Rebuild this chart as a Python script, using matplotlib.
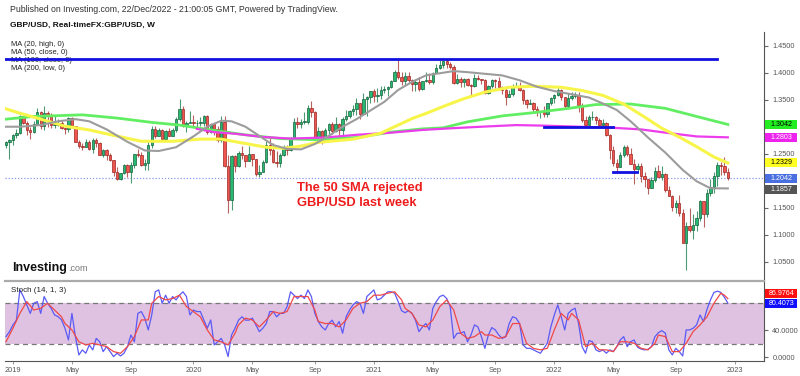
import numpy as np
import pandas as pd
import matplotlib
matplotlib.use('Agg')
import matplotlib.pyplot as plt
import matplotlib.dates as mdates
from matplotlib.patches import Rectangle

plt.rcParams['font.family'] = ['Liberation Sans', 'DejaVu Sans']

# weekly GBP/USD candles, first bar = week of 24 Dec 2018
opens = [1.2655, 1.2715, 1.2745, 1.2845, 1.2880, 1.3190, 1.3075, 1.2940, 1.2905, 1.3050,
         1.3265, 1.3010, 1.3255, 1.3205, 1.3035, 1.3040, 1.3070, 1.2985, 1.2950, 1.3170,
         1.3005, 1.2720, 1.2650, 1.2620, 1.2720, 1.2585, 1.2745, 1.2690, 1.2480, 1.2575,
         1.2470, 1.2375, 1.2165, 1.2025, 1.2145, 1.2290, 1.2160, 1.2290, 1.2500, 1.2475,
         1.2290, 1.2330, 1.2670, 1.2960, 1.2830, 1.2935, 1.2775, 1.2915, 1.2835, 1.2935,
         1.3150, 1.3325, 1.3015, 1.3075, 1.3080, 1.3060, 1.3070, 1.3075, 1.3200, 1.2910,
         1.3045, 1.2960, 1.2750, 1.3090, 1.2280, 1.1640, 1.2460, 1.2265, 1.2505, 1.2470,
         1.2370, 1.2490, 1.2400, 1.2115, 1.2170, 1.2340, 1.2670, 1.2565, 1.2350, 1.2335,
         1.2470, 1.2615, 1.2565, 1.2790, 1.3085, 1.3050, 1.3090, 1.3090, 1.3350, 1.3280,
         1.2795, 1.2920, 1.2750, 1.2945, 1.3045, 1.2915, 1.3045, 1.2945, 1.3150, 1.3190,
         1.3300, 1.3320, 1.3435, 1.3230, 1.3515, 1.3550, 1.3670, 1.3565, 1.3590, 1.3685,
         1.3705, 1.3735, 1.3855, 1.4015, 1.3925, 1.3845, 1.3935, 1.3870, 1.3790, 1.3830,
         1.3700, 1.3840, 1.3870, 1.3820, 1.4000, 1.4095, 1.4150, 1.4215, 1.4155, 1.4110,
         1.3805, 1.3880, 1.3830, 1.3875, 1.3765, 1.3745, 1.3900, 1.3875, 1.3870, 1.3620,
         1.3760, 1.3865, 1.3840, 1.3735, 1.3675, 1.3550, 1.3615, 1.3745, 1.3760, 1.3685,
         1.3500, 1.3420, 1.3440, 1.3335, 1.3265, 1.3270, 1.3235, 1.3435, 1.3530, 1.3590,
         1.3675, 1.3545, 1.3390, 1.3530, 1.3565, 1.3590, 1.3410, 1.3120, 1.3035, 1.3180,
         1.3185, 1.3120, 1.3040, 1.3065, 1.2840, 1.2575, 1.2335, 1.2260, 1.2485, 1.2625,
         1.2490, 1.2315, 1.2215, 1.2265, 1.2095, 1.2030, 1.1870, 1.2005, 1.2175, 1.2075,
         1.2130, 1.1830, 1.1720, 1.1510, 1.1585, 1.1410, 1.0855, 1.1165, 1.1090, 1.1175,
         1.1310, 1.1620, 1.1380, 1.1765, 1.1890, 1.2090, 1.2290, 1.2265, 1.2165]
highs = [1.2735, 1.2770, 1.2865, 1.2960, 1.3215, 1.3215, 1.3100, 1.2990, 1.3110, 1.3350,
         1.3285, 1.3380, 1.3300, 1.3255, 1.3195, 1.3150, 1.3120, 1.2990, 1.3175, 1.3175,
         1.3010, 1.2750, 1.2690, 1.2765, 1.2745, 1.2785, 1.2785, 1.2710, 1.2580, 1.2580,
         1.2520, 1.2375, 1.2250, 1.2150, 1.2310, 1.2310, 1.2345, 1.2500, 1.2580, 1.2525,
         1.2410, 1.2710, 1.3010, 1.3010, 1.2975, 1.2955, 1.2930, 1.2985, 1.2975, 1.3180,
         1.3515, 1.3380, 1.3100, 1.3285, 1.3215, 1.3120, 1.3175, 1.3210, 1.3215, 1.3070,
         1.3070, 1.3010, 1.3200, 1.3200, 1.2485, 1.2485, 1.2485, 1.2545, 1.2650, 1.2475,
         1.2645, 1.2500, 1.2410, 1.2300, 1.2390, 1.2730, 1.2810, 1.2690, 1.2545, 1.2510,
         1.2670, 1.2660, 1.2815, 1.3170, 1.3185, 1.3145, 1.3265, 1.3395, 1.3480, 1.3285,
         1.3000, 1.2930, 1.2985, 1.3060, 1.3085, 1.3175, 1.3065, 1.3175, 1.3310, 1.3310,
         1.3400, 1.3540, 1.3445, 1.3625, 1.3565, 1.3670, 1.3705, 1.3710, 1.3745, 1.3760,
         1.3760, 1.3865, 1.4050, 1.4240, 1.4015, 1.4005, 1.4015, 1.3880, 1.3885, 1.3920,
         1.3845, 1.4010, 1.3990, 1.4005, 1.4165, 1.4235, 1.4220, 1.4250, 1.4200, 1.4135,
         1.3985, 1.3920, 1.3895, 1.3910, 1.3795, 1.3985, 1.3960, 1.3890, 1.3890, 1.3780,
         1.3890, 1.3880, 1.3915, 1.3750, 1.3750, 1.3675, 1.3790, 1.3835, 1.3825, 1.3700,
         1.3510, 1.3510, 1.3455, 1.3375, 1.3275, 1.3375, 1.3440, 1.3545, 1.3600, 1.3750,
         1.3690, 1.3550, 1.3630, 1.3645, 1.3645, 1.3650, 1.3435, 1.3200, 1.3215, 1.3300,
         1.3190, 1.3165, 1.3145, 1.3090, 1.2860, 1.2640, 1.2400, 1.2525, 1.2665, 1.2665,
         1.2600, 1.2405, 1.2325, 1.2330, 1.2165, 1.2035, 1.2065, 1.2245, 1.2295, 1.2280,
         1.2145, 1.1900, 1.1740, 1.1650, 1.1740, 1.1475, 1.1235, 1.1495, 1.1380, 1.1440,
         1.1645, 1.1625, 1.1855, 1.2030, 1.2155, 1.2345, 1.2345, 1.2445, 1.2240]
lows = [1.2605, 1.2405, 1.2670, 1.2800, 1.2865, 1.3050, 1.2850, 1.2770, 1.2885, 1.3045,
        1.2960, 1.2945, 1.3000, 1.2980, 1.2980, 1.3020, 1.2960, 1.2865, 1.2905, 1.2970,
        1.2715, 1.2605, 1.2560, 1.2615, 1.2560, 1.2505, 1.2630, 1.2475, 1.2440, 1.2380,
        1.2365, 1.2080, 1.2015, 1.2015, 1.2115, 1.2070, 1.1960, 1.2230, 1.2430, 1.2270,
        1.2205, 1.2195, 1.2610, 1.2790, 1.2820, 1.2770, 1.2765, 1.2820, 1.2820, 1.2905,
        1.3105, 1.2990, 1.2905, 1.3065, 1.3010, 1.2955, 1.3010, 1.3010, 1.2870, 1.2875,
        1.2850, 1.2725, 1.2725, 1.2250, 1.1410, 1.1450, 1.2160, 1.2250, 1.2410, 1.2250,
        1.2370, 1.2265, 1.2080, 1.2075, 1.2165, 1.2330, 1.2475, 1.2335, 1.2255, 1.2255,
        1.2465, 1.2480, 1.2545, 1.2770, 1.2985, 1.2985, 1.3055, 1.3055, 1.3180, 1.2760,
        1.2765, 1.2675, 1.2745, 1.2865, 1.2865, 1.2905, 1.2855, 1.2855, 1.3105, 1.3165,
        1.3220, 1.3225, 1.3135, 1.3215, 1.3190, 1.3430, 1.3450, 1.3450, 1.3520, 1.3625,
        1.3565, 1.3715, 1.3850, 1.3890, 1.3780, 1.3775, 1.3835, 1.3670, 1.3670, 1.3670,
        1.3680, 1.3825, 1.3785, 1.3800, 1.3995, 1.4075, 1.4090, 1.4080, 1.4075, 1.3790,
        1.3790, 1.3730, 1.3730, 1.3760, 1.3570, 1.3740, 1.3860, 1.3800, 1.3600, 1.3600,
        1.3725, 1.3725, 1.3730, 1.3610, 1.3410, 1.3545, 1.3575, 1.3735, 1.3670, 1.3425,
        1.3355, 1.3415, 1.3280, 1.3195, 1.3160, 1.3175, 1.3180, 1.3400, 1.3430, 1.3560,
        1.3490, 1.3355, 1.3385, 1.3490, 1.3525, 1.3275, 1.3095, 1.3000, 1.3000, 1.3120,
        1.3050, 1.3030, 1.2975, 1.2830, 1.2410, 1.2275, 1.2155, 1.2245, 1.2445, 1.2460,
        1.2310, 1.1935, 1.2160, 1.1975, 1.1875, 1.1760, 1.1865, 1.1975, 1.2060, 1.2005,
        1.1800, 1.1715, 1.1445, 1.1405, 1.1350, 1.0840, 1.0350, 1.1055, 1.0925, 1.1065,
        1.1255, 1.1145, 1.1335, 1.1710, 1.1780, 1.1900, 1.2105, 1.2110, 1.2020]
closes = [1.2715, 1.2745, 1.2845, 1.2880, 1.3190, 1.3075, 1.2940, 1.2905, 1.3050, 1.3265,
          1.3010, 1.3255, 1.3205, 1.3035, 1.3040, 1.3070, 1.2985, 1.2950, 1.3170, 1.3005,
          1.2720, 1.2650, 1.2620, 1.2720, 1.2585, 1.2745, 1.2690, 1.2480, 1.2575, 1.2470,
          1.2375, 1.2165, 1.2025, 1.2145, 1.2290, 1.2160, 1.2290, 1.2500, 1.2475, 1.2290,
          1.2330, 1.2670, 1.2960, 1.2830, 1.2935, 1.2775, 1.2915, 1.2835, 1.2935, 1.3150,
          1.3325, 1.3015, 1.3075, 1.3080, 1.3060, 1.3070, 1.3075, 1.3200, 1.2910, 1.3045,
          1.2960, 1.2750, 1.3090, 1.2280, 1.1640, 1.2460, 1.2265, 1.2505, 1.2470, 1.2370,
          1.2490, 1.2400, 1.2115, 1.2170, 1.2340, 1.2670, 1.2565, 1.2350, 1.2335, 1.2470,
          1.2615, 1.2565, 1.2790, 1.3085, 1.3050, 1.3090, 1.3090, 1.3350, 1.3280, 1.2795,
          1.2920, 1.2750, 1.2945, 1.3045, 1.2915, 1.3045, 1.2945, 1.3150, 1.3190, 1.3300,
          1.3320, 1.3435, 1.3230, 1.3515, 1.3550, 1.3670, 1.3565, 1.3590, 1.3685, 1.3705,
          1.3735, 1.3855, 1.4015, 1.3925, 1.3845, 1.3935, 1.3870, 1.3790, 1.3830, 1.3700,
          1.3840, 1.3870, 1.3820, 1.4000, 1.4095, 1.4150, 1.4215, 1.4155, 1.4110, 1.3805,
          1.3880, 1.3830, 1.3875, 1.3765, 1.3745, 1.3900, 1.3875, 1.3870, 1.3620, 1.3760,
          1.3865, 1.3840, 1.3735, 1.3675, 1.3550, 1.3615, 1.3745, 1.3760, 1.3685, 1.3500,
          1.3420, 1.3440, 1.3335, 1.3265, 1.3270, 1.3235, 1.3435, 1.3530, 1.3590, 1.3675,
          1.3545, 1.3390, 1.3530, 1.3565, 1.3590, 1.3410, 1.3120, 1.3035, 1.3180, 1.3185,
          1.3120, 1.3040, 1.3065, 1.2840, 1.2575, 1.2335, 1.2260, 1.2485, 1.2625, 1.2490,
          1.2315, 1.2215, 1.2265, 1.2095, 1.2030, 1.1870, 1.2005, 1.2175, 1.2075, 1.2130,
          1.1830, 1.1720, 1.1510, 1.1585, 1.1410, 1.0855, 1.1165, 1.1090, 1.1175, 1.1310,
          1.1620, 1.1380, 1.1765, 1.1890, 1.2090, 1.2290, 1.2265, 1.2165, 1.2042]

# moving averages: bar index -> value
ma20_idx = [0, 4, 10, 15, 20, 24, 29, 35, 40, 44, 49, 54, 58, 62, 65, 69, 73, 77, 81, 85,
            89, 93, 97, 101, 105, 109, 113, 117, 121, 125, 129, 133, 138, 143, 148, 153, 158,
            163, 168, 172, 176, 180, 185, 190, 195, 199, 203, 208]
ma20_val = [1.300, 1.300, 1.303, 1.310, 1.314, 1.310, 1.295, 1.272, 1.256, 1.255, 1.262,
            1.282, 1.300, 1.311, 1.310, 1.300, 1.283, 1.266, 1.259, 1.258, 1.268, 1.283,
            1.300, 1.314, 1.330, 1.346, 1.368, 1.383, 1.395, 1.399, 1.403, 1.401, 1.398,
            1.395, 1.386, 1.374, 1.366, 1.360, 1.354, 1.343, 1.331, 1.310, 1.280, 1.252,
            1.220, 1.199, 1.186, 1.1857]
ma50_idx = [0, 4, 10, 17, 24, 31, 39, 48, 56, 62, 68, 75, 80, 85, 90, 100, 108, 112, 117,
            122, 127, 132, 138, 145, 152, 160, 166, 172, 178, 184, 189, 194, 199, 204, 208]
ma50_val = [1.333, 1.325, 1.314, 1.301, 1.294, 1.284, 1.273, 1.273, 1.277, 1.277, 1.270,
            1.262, 1.260, 1.264, 1.271, 1.277, 1.288, 1.300, 1.315, 1.327, 1.340, 1.352,
            1.364, 1.373, 1.375, 1.373, 1.367, 1.358, 1.342, 1.318, 1.297, 1.281, 1.263,
            1.244, 1.2329]
ma100_idx = [55, 60, 66, 74, 82, 92, 101, 111, 120, 128, 137, 147, 155, 165, 175, 183, 190,
             199, 208]
ma100_val = [1.296, 1.290, 1.287, 1.281, 1.278, 1.280, 1.285, 1.289, 1.294, 1.297, 1.300,
             1.303, 1.302, 1.300, 1.298, 1.295, 1.289, 1.282, 1.2803]
ma200_idx = [0, 8, 22, 32, 42, 50, 59, 69, 79, 89, 101, 111, 120, 126, 133, 143, 152, 161,
             170, 180, 190, 199, 208]
ma200_val = [1.314, 1.319, 1.322, 1.316, 1.308, 1.303, 1.294, 1.285, 1.278, 1.276, 1.280,
             1.290, 1.296, 1.298, 1.309, 1.320, 1.326, 1.333, 1.341, 1.342, 1.334, 1.319,
             1.3042]

# drawn support / resistance lines: (from bar, to bar, level)
levels = [(-0.3, 204.9, 1.4254), (155.0, 174.9, 1.2994), (174.9, 181.8, 1.2155)]

# Stoch (14, 1, 3)
stoch_k = [30.6, 38, 48, 55, 100, 90, 77.5, 65, 80, 82.5,
           65, 90, 80, 72.6, 62.7, 60.2, 55.3, 43, 25.7, 65,
           30.6, 3.5, 10.9, 6, 18.3, 10.9, 28, 23, 8.4, 15.8,
           8.4, 1, 6, 2, 6, 15.8, 33, 23, 65, 67.7,
           57.8, 40.5, 62.7, 97, 99.8, 80, 92, 80, 90, 85,
           92, 97, 90, 62.7, 70, 67.7, 67.7, 55.3, 43, 55.3,
           18.3, 23, 28, 18.3, 1, 33, 43, 55, 60, 55,
           55, 58, 48, 38, 43, 50, 67.7, 67.7, 60, 65,
           65, 75, 97, 92, 87, 92, 87, 99.8, 90, 65,
           53, 45, 40.5, 50, 55, 45, 53, 35.6, 60, 70,
           77.5, 82.5, 80, 65, 90, 95, 99.8, 85, 87, 92,
           97, 97, 95, 82.5, 69, 66, 69, 65, 55, 38,
           45, 50, 40.5, 72.6, 82.5, 90, 92, 87, 75, 28,
           35.6, 35.6, 38, 23, 33, 48, 45, 30.6, 13.3, 33,
           44, 40.5, 33, 28, 30.6, 50, 60, 58, 50, 18.3,
           13.3, 13.3, 11, 8.4, 6, 13.3, 20.7, 45, 62.7, 77.5,
           60, 40.5, 65, 70, 72.6, 50, 15.8, 6, 24.7, 23,
           11, 8.4, 11, 6, 11, 8.4, 15.8, 25.7, 30.6, 15.8,
           23, 25.7, 14.8, 12.3, 11, 11.8, 15.8, 30.6, 36.5, 39.5,
           35.6, 11, 3.5, 13.3, 8.4, 2, 40.5, 40.5, 43, 48,
           62.7, 53, 71, 85, 96, 98, 96, 89, 80.4073]
stoch_d_idx = [0, 2, 4, 6, 8, 10, 12, 14, 16, 17, 19, 21, 23, 25, 27, 29, 31, 33, 35, 37,
               39, 41, 42, 44, 46, 48, 50, 52, 54, 56, 58, 60, 62, 64, 66, 67, 69, 71, 73,
               75, 77, 79, 81, 83, 85, 87, 89, 90, 92, 94, 96, 98, 100, 102, 104, 106, 108,
               110, 112, 114, 115, 117, 119, 121, 123, 125, 127, 129, 131, 133, 135, 137,
               138, 140, 142, 144, 146, 148, 150, 152, 154, 156, 158, 160, 162, 163, 165,
               167, 169, 171, 173, 175, 177, 179, 181, 183, 185, 187, 188, 190, 192, 194,
               196, 198, 200, 202, 204, 206, 207, 208]
stoch_d_val = [23, 43, 65, 82.5, 70, 72.6, 80, 70, 60, 50, 40.5, 23, 18.3, 20.7, 18.3, 15.8,
               8.4, 6, 15.8, 30.6, 55.3, 55.3, 80, 90, 85, 87, 92, 75, 67.7, 60, 40.5, 25.7,
               23, 18.3, 35.6, 48, 58, 55.3, 45, 55.3, 67.7, 65, 67.7, 90, 90, 90, 70, 53,
               50, 50, 45, 55.3, 72.6, 80, 82.5, 92, 92, 95, 97, 85, 72.6, 65, 48, 45, 55.3,
               75, 85, 70, 35.6, 28, 30.6, 38, 33, 33, 28, 30.6, 50, 50, 20.7, 13.3, 11,
               13.3, 40.5, 65, 55.3, 65, 55.3, 15.8, 20.7, 11, 11, 8.4, 23, 23, 20.7, 13.3,
               11, 20.7, 33, 30.6, 8.4, 8.4, 20.7, 38, 48, 60, 80, 95, 92, 86.9764]

tick_dates = ['2019-01-07', '2019-05-06', '2019-09-02', '2020-01-06', '2020-05-04',
              '2020-09-07', '2021-01-04', '2021-05-03', '2021-09-06', '2022-01-03',
              '2022-05-02', '2022-09-05', '2023-01-02']
tick_labels = ['2019', 'May', 'Sep', '2020', 'May', 'Sep', '2021', 'May', 'Sep', '2022',
               'May', 'Sep', '2023']

# price scale ticks (the ones under the value boxes are not labelled)
price_ticks = [1.05, 1.10, 1.15, 1.20, 1.25, 1.30, 1.35, 1.40, 1.45]
price_tick_labels = ['1.0500', '1.1000', '1.1500', '', '1.2500', '', '1.3500', '1.4000',
                     '1.4500']

x0 = mdates.date2num(pd.Timestamp('2018-12-24'))


def bx(i):
    return x0 + 7 * np.asarray(i, dtype=float)


o = np.array(opens)
h = np.array(highs)
l = np.array(lows)
c = np.array(closes)
xs = bx(np.arange(len(c)))
up = c >= o

fig = plt.figure(figsize=(8, 3.76), dpi=100)
ax = fig.add_axes([5 / 800, 1 - 281 / 376, 759 / 800, 249 / 376])
ax2 = fig.add_axes([5 / 800, 1 - 361 / 376, 759 / 800, 80 / 376], sharex=ax)

# candles
ax.vlines(xs[up], l[up], h[up], color='#4d9a72', lw=0.8, zorder=2)
ax.vlines(xs[~up], l[~up], h[~up], color='#b9615f', lw=0.8, zorder=2)
body = np.maximum(np.abs(c - o), 0.0008)
ax.bar(xs[up], body[up], bottom=o[up], width=4.8, color='#27b872',
       edgecolor='#16603c', linewidth=0.5, zorder=3)
ax.bar(xs[~up], body[~up], bottom=c[~up], width=4.8, color='#f0564f',
       edgecolor='#9a2622', linewidth=0.5, zorder=3)

# moving averages
ax.plot(bx(ma200_idx), ma200_val, color='#62ee62', lw=2, zorder=4)
ax.plot(bx(ma100_idx), ma100_val, color='#ec3cec', lw=1.6, zorder=4)
ax.plot(bx(ma50_idx), ma50_val, color='#f7f54a', lw=2.2, zorder=4)
ax.plot(bx(ma20_idx), ma20_val, color='#9c9c9c', lw=1.5, zorder=4)

for a, b, lev in levels:
    ax.plot(bx([a, b]), [lev, lev], color='#1010e0', lw=2, zorder=5)

ax.axhline(closes[-1], color='#8a98ee', ls=(0, (1, 1.5)), lw=0.9, zorder=1)

ax.set_xlim(x0 - 2, x0 + 1529)
ax.set_ylim(1.01426, 1.4754)
ax.yaxis.tick_right()
ax.set_yticks(price_ticks)
ax.set_yticklabels(price_tick_labels)
ax.tick_params(axis='y', length=3, width=0.8, color='#666', pad=3, labelsize=5.3,
               labelcolor='#555')
ax.tick_params(axis='x', bottom=False, labelbottom=False)
for s in ['top', 'left', 'bottom']:
    ax.spines[s].set_visible(False)
ax.spines['right'].set_color('#555')

# value boxes on the price scale
price_boxes = [(1.3042, '1.3042', '#22ee22', 'black'),
               (1.2803, '1.2803', '#ee22ee', 'white'),
               (1.2329, '1.2329', '#ffff22', 'black'),
               (1.2042, '1.2042', '#4a6fe0', 'white'),
               (1.1857, '1.1857', '#555555', 'white')]
bh = 9 / 540
nudge = {'1.1857': -1.2 / 540}   # keep the last two boxes from touching
for v, t, fc, tc in price_boxes:
    yc = v + nudge.get(t, 0)
    ax.add_patch(Rectangle((1.001, yc - bh / 2), 0.043, bh, transform=ax.get_yaxis_transform(),
                           facecolor=fc, edgecolor='none', clip_on=False, zorder=6))
    ax.text(1.008, yc, t, transform=ax.get_yaxis_transform(), color=tc, fontsize=5.1,
            va='center', ha='left', zorder=7)

# stochastic panel
ax2.axhspan(20, 80, color='#dfc2e2', lw=0, zorder=0)
ax2.axhline(80, color='#777', lw=0.9, ls=(0, (4, 3)), zorder=1)
ax2.axhline(20, color='#777', lw=0.9, ls=(0, (4, 3)), zorder=1)
ax2.plot(xs, stoch_k, color='#5a5af5', lw=0.9, zorder=3)
ax2.plot(bx(stoch_d_idx), stoch_d_val, color='#f04848', lw=0.9, zorder=4)
ax2.set_ylim(-5.5, 113)
ax2.yaxis.tick_right()
ax2.set_yticks([0, 40])
ax2.set_yticklabels(['0.0000', '40.0000'])
ax2.tick_params(axis='y', length=3, width=0.8, color='#666', pad=3, labelsize=5.3,
                labelcolor='#555')
ax2.set_xticks(mdates.date2num(pd.to_datetime(tick_dates)))
ax2.set_xticklabels(tick_labels)
ax2.tick_params(axis='x', length=2, width=0.6, color='#888', pad=2, labelsize=5.3,
                labelcolor='#555')
ax2.spines['left'].set_visible(False)
ax2.spines['top'].set_color('#aaaaaa')
ax2.spines['top'].set_linewidth(1.6)
ax2.spines['bottom'].set_color('#555')
ax2.spines['right'].set_color('#555')

stoch_boxes = [(93.8, '86.9764', '#ff1010'), (80.4, '80.4073', '#1010ff')]
sh = 9 / 0.675
for v, t, fc in stoch_boxes:
    ax2.add_patch(Rectangle((1.001, v - sh / 2), 0.043, sh, transform=ax2.get_yaxis_transform(),
                            facecolor=fc, edgecolor='none', clip_on=False, zorder=6))
    ax2.text(1.006, v, t, transform=ax2.get_yaxis_transform(), color='white', fontsize=5.1,
             va='center', ha='left', zorder=7)

# header texts
fig.text(10 / 800, 1 - 10 / 376, 'Published on Investing.com, 22/Dec/2022 - 21:00:05 GMT, '
         'Powered by TradingView.', fontsize=6.3, color='#333', va='center')
fig.text(10 / 800, 1 - 25 / 376, 'GBP/USD, Real-timeFX:GBP/USD, W', fontsize=6.0,
         fontweight='bold', color='#111', va='center')
for k, t in enumerate(['MA (20, high, 0)', 'MA (50, close, 0)', 'MA (100, close, 0)',
                       'MA (200, low, 0)']):
    ax.text(11 / 800, 1 - (45 + 8 * k) / 376, t, transform=fig.transFigure, fontsize=5.4,
            color='#222', va='center', zorder=1)

ax.text(12 / 800, 1 - 271 / 376, 'Investing', transform=fig.transFigure, fontsize=9,
        fontweight='bold', color='#111', va='baseline')
ax.text(68 / 800, 1 - 271 / 376, '.com', transform=fig.transFigure, fontsize=6.5,
        color='#777', va='baseline')

fig.text(297 / 800, 1 - 188 / 376, 'The 50 SMA rejected', fontsize=9.3, fontweight='bold',
         color='#ee1c1c', va='center')
fig.text(297 / 800, 1 - 203 / 376, 'GBP/USD last week', fontsize=9.3, fontweight='bold',
         color='#ee1c1c', va='center')

ax2.text(11 / 800, 1 - 291 / 376, 'Stoch (14, 1, 3)', transform=fig.transFigure,
         fontsize=5.8, color='#222', va='center')

fig.savefig('out.png', dpi=100)
